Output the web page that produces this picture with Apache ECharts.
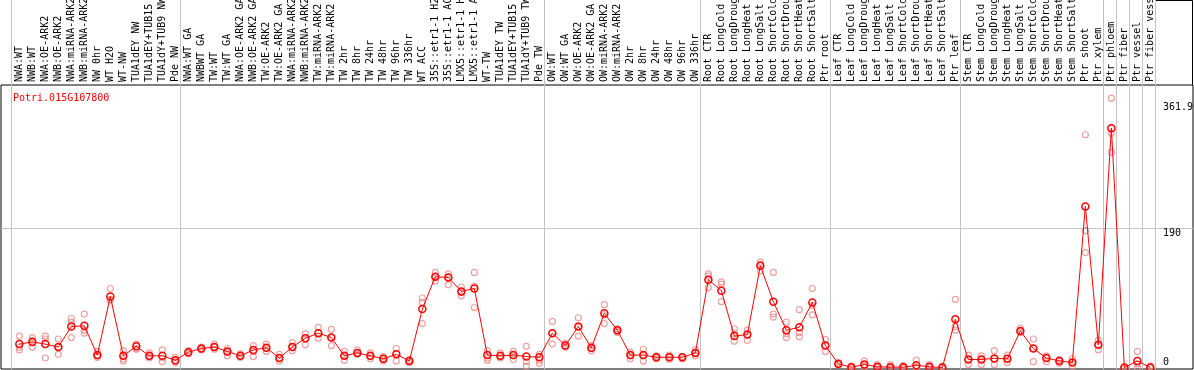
<!DOCTYPE html>
<html>
<head>
<meta charset="utf-8">
<script src="https://cdn.jsdelivr.net/npm/echarts@6/dist/echarts.min.js"></script>
<style>
  html, body { margin: 0; padding: 0; background: #fff; }
  #main { width: 1194px; height: 370px; }
</style>
</head>
<body>
<div id="main"></div>
<script>
var geneId = 'Potri.015G107800';

var categories = [
  'NWA:WT', 'NWB:WT', 'NWA:OE-ARK2', 'NWB:OE-ARK2', 'NWA:miRNA-ARK2', 'NWB:miRNA-ARK2', 'NW 0hr', 'WT H2O', 'WT-NW',
  'TUA1dEY NW', 'TUA1dEY+TUB15', 'TUA1dY+TUB9 NW', 'Pde NW',
  'NWA:WT GA', 'NWBWT GA', 'TW:WT', 'TW:WT GA', 'NWA:OE-ARK2 GA', 'NWB:OE-ARK2 GA', 'TW:OE-ARK2', 'TW:OE-ARK2 GA',
  'NWA:miRNA-ARK2', 'NWB:miRNA-ARK2', 'TW:miRNA-ARK2', 'TW:miRNA-ARK2', 'TW 2hr', 'TW 8hr', 'TW 24hr', 'TW 48hr',
  'TW 96hr', 'TW 336hr', 'WT ACC', '35S::etr1-1 H2', '35S::etr1-1 AC', 'LMX5::etr1-1 H', 'LMX5::etr1-1 A', 'WT-TW',
  'TUA1dEY TW', 'TUA1dEY+TUB15', 'TUA1dY+TUB9 TW', 'Pde TW',
  'OW:WT', 'OW:WT GA', 'OW:OE-ARK2', 'OW:OE-ARK2 GA', 'OW:miRNA-ARK2', 'OW:miRNA-ARK2', 'OW 2hr', 'OW 8hr',
  'OW 24hr', 'OW 48hr', 'OW 96hr', 'OW 336hr',
  'Root CTR', 'Root LongCold', 'Root LongDroug', 'Root LongHeat', 'Root LongSalt', 'Root ShortCold', 'Root ShortDrou',
  'Root ShortHeat', 'Root ShortSalt', 'Ptr root',
  'Leaf CTR', 'Leaf LongCold', 'Leaf LongDroug', 'Leaf LongHeat', 'Leaf LongSalt', 'Leaf ShortCold', 'Leaf ShortDrou',
  'Leaf ShortHeat', 'Leaf ShortSalt', 'Ptr leaf',
  'Stem CTR', 'Stem LongCold', 'Stem LongDroug', 'Stem LongHeat', 'Stem LongSalt', 'Stem ShortCold', 'Stem ShortDrou',
  'Stem ShortHeat', 'Stem ShortSalt', 'Ptr shoot', 'Ptr xylem',
  'Ptr phloem', 'Ptr fiber', 'Ptr vessel', 'Ptr fiber vess'
];

// mean expression per sample
var meanValues = [
  32, 35, 32, 28, 56, 57, 17, 97, 16, 29, 16, 16, 10,
  21, 26, 28, 22, 16, 24, 27, 13, 28, 40, 47, 41, 16, 20, 16, 12, 18, 9, 80, 124, 123, 104, 108, 17, 16, 17, 15, 14,
  47, 30, 56, 27, 74, 51, 17, 17, 14, 14, 14, 20,
  120, 105, 43, 45, 139, 90, 51, 55, 89, 30,
  5, 0.5, 4, 1, 0.5, 0.5, 3, 1, 0, 66,
  11, 11, 12.5, 12, 50, 26, 13, 9, 7, 220, 31,
  327, 0, 9, 0
];

// replicates
var rep1 = [
  43, 41, 43, 39, 67, 73, 22, 108, 23, 32, 20, 24, 14,
  23, 28, 32, 26, 19, 30, 32, 18, 34, 46, 55, 52, 22, 24, 20, 15, 26, 11, 95, 130, 128, 110, 130, 23, 20, 22, 29, 18,
  63, 33, 68, 30, 86, 53, 21, 25, 16, 17, 15, 24,
  128, 117, 53, 51, 144, 130, 62, 79, 108, 38,
  7, 2, 9, 4, 4, 3, 10, 4, 2, 93,
  17, 16, 23, 17, 54, 39, 16, 11, 12, 318, 37,
  368, 0, 22, 2
];
var rep2 = [
  28, 37, 39, 28, 62, 51, 16, 93, 12, 26, 15, 13, 9,
  20, 25, 28, 21, 16, 22, 26, 13, 28, 39, 47, 41, 16, 20, 15, 12, 19, 9, 89, 124, 123, 103, 111, 13, 15, 16, 8, 10,
  47, 29, 55, 26, 72, 50, 16, 16, 14, 14, 14, 20,
  125, 114, 46, 45, 141, 73, 46, 48, 85, 30,
  5, 0, 3, 1, 0, 0, 1, 0.5, 0, 56,
  11, 11, 12, 12, 50, 26, 13, 9, 7, 187, 31,
  320, 0, 5, 0
];
var rep3 = [
  24, 28, 13, 18, 41, 47, 14, 92, 9, 25, 13, 8, 7,
  19, 24, 25, 16, 14, 15, 22, 9, 23, 31, 40, 30, 10, 18, 12, 9, 9, 7, 60, 118, 113, 98, 82, 10, 13, 11, 2, 6,
  32, 28, 43, 23, 60, 48, 12, 9, 12, 11, 12, 16,
  109, 90, 36, 37, 132, 69, 41, 42, 72, 22,
  4, 0, 1, 0, 0, 0, 0, 0, 0, 51,
  4, 4, 4, 7, 48, 8, 8, 6, 2, 157, 24,
  294, 0, 0, 0
];

// first sample of every group, plus the end
var groupStarts = [0, 13, 41, 53, 63, 73, 84, 85, 86, 87, 88];
var yLabels = [0, 190, 361.9];

var sepValues = groupStarts.map(function (k) { return k - 0.64; });
var xIdx = categories.map(function (c, i) { return i; });
function pairs(arr) { return arr.map(function (v, i) { return [i, v]; }); }

var monoFont = 'DejaVu Sans Mono';
var sepColor = '#c4c4c4';
var repStyle = {
  color: 'rgba(0,0,0,0)',
  borderColor: '#e98a8a',
  borderWidth: 1.2
};

var myChart = echarts.init(document.getElementById('main'));
var option = {
  animation: false,
  title: {
    text: geneId,
    left: 8,
    top: 88,
    textStyle: { color: '#ff0000', fontSize: 10, fontWeight: 'normal', fontFamily: monoFont }
  },
  grid: [
    {
      left: 1, right: 1, top: 85, bottom: 1,
      outerBoundsMode: 'none',
      containLabel: false,
      show: true, borderColor: '#000', borderWidth: 1, backgroundColor: 'rgba(0,0,0,0)'
    },
    // strip above the plot that holds the sample names
    { left: 1, right: 1, top: 0, height: 85, outerBoundsMode: 'none', containLabel: false }
  ],
  xAxis: [
    {
      type: 'value',
      gridIndex: 0,
      position: 'top',
      min: -1.41,
      max: 90.28,
      axisLine: { show: false },
      axisTick: { show: false, customValues: sepValues },
      splitLine: { show: true, lineStyle: { color: sepColor, width: 1 } },
      axisLabel: {
        customValues: xIdx,
        rotate: 90,
        margin: 3,
        fontSize: 10,
        fontFamily: monoFont,
        color: '#000',
        formatter: function (v) { return categories[Math.round(v)]; }
      }
    },
    {
      type: 'value',
      gridIndex: 1,
      min: -1.41,
      max: 90.28,
      axisLine: { show: false },
      axisTick: { show: false, customValues: sepValues },
      axisLabel: { show: false },
      splitLine: { show: true, lineStyle: { color: sepColor, width: 1 } }
    }
  ],
  yAxis: [
    {
      type: 'value',
      gridIndex: 0,
      position: 'right',
      min: -2,
      max: 386,
      axisLine: { show: false },
      axisTick: { show: false, customValues: [190] },
      splitLine: { show: true, lineStyle: { color: sepColor, width: 1 } },
      axisLabel: {
        customValues: yLabels,
        inside: true,
        align: 'left',
        margin: 30,
        verticalAlign: 'top',
        verticalAlignMinLabel: 'bottom',
        fontSize: 10,
        fontFamily: monoFont,
        color: '#000'
      }
    },
    {
      type: 'value',
      gridIndex: 1,
      min: 0,
      max: 1,
      show: false
    }
  ],
  graphic: [
    {
      type: 'polyline',
      shape: { points: [[1156, 0.5], [1192.5, 0.5], [1192.5, 85]] },
      style: { stroke: '#000', lineWidth: 1, fill: null }
    }
  ],
  series: [
    { type: 'scatter', data: pairs(rep1), symbol: 'circle', symbolSize: 6, itemStyle: repStyle },
    { type: 'scatter', data: pairs(rep2), symbol: 'circle', symbolSize: 6, itemStyle: repStyle },
    { type: 'scatter', data: pairs(rep3), symbol: 'circle', symbolSize: 6, itemStyle: repStyle },
    {
      type: 'line',
      data: pairs(meanValues),
      symbol: 'circle',
      symbolSize: 7,
      showAllSymbol: true,
      lineStyle: { color: '#ff0000', width: 1 },
      itemStyle: { color: 'rgba(0,0,0,0)', borderColor: '#ff0000', borderWidth: 1.5 },
      z: 3
    }
  ]
};
myChart.setOption(option);
window.addEventListener('resize', function () {
  myChart.resize();
});
</script>
</body>
</html>
